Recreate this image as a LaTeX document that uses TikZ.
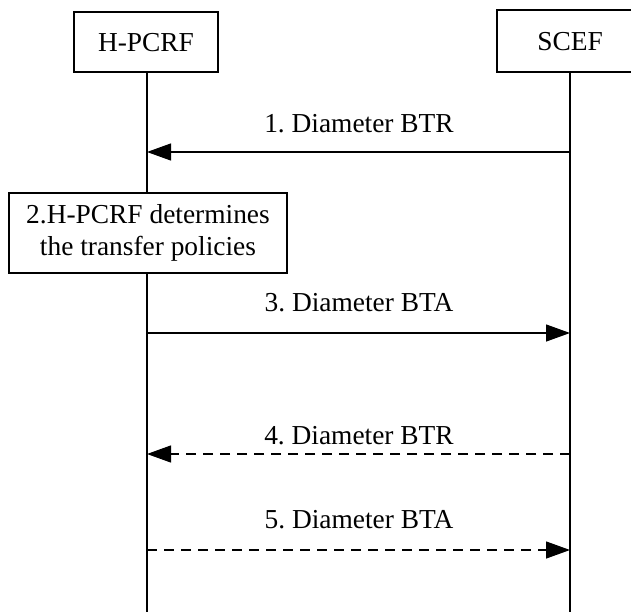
\documentclass[tikz,border=0pt]{standalone}
\usepackage{fontspec}
\setmainfont{Liberation Serif}
\usetikzlibrary{arrows.meta}
\frenchspacing
\tikzset{
  entity/.style={draw,line width=1.3bp,inner sep=0bp,font=\fontsize{27.5}{27.5}\selectfont},
  msg/.style={line width=1.3bp,-{Triangle[length=24bp,width=17bp]}},
  msglabel/.style={font=\fontsize{27.5}{27.5}\selectfont,inner sep=0bp},
  lifeline/.style={line width=1.3bp}
}

\begin{document}
\begin{tikzpicture}[x=1bp,y=-1bp]
  \path[use as bounding box] (0,0) rectangle (631,612);

  % entities and their lifelines
  \node[entity,text height=19bp,text depth=0bp,minimum width=144bp,minimum height=60bp]
    (hpcrf) at (146,42) {H-PCRF};
  \node[entity,text height=19bp,text depth=0bp,minimum width=146bp,minimum height=62bp]
    (scef) at (570,41) {SCEF};
  \coordinate (hpcrfend) at (147,612);
  \coordinate (scefend) at (570,612);
  \node[entity,align=center,minimum width=278bp,minimum height=80bp,
    font=\fontsize{27.5}{32}\selectfont] (policy) at (148,233)
    {2.H-PCRF determines\\the transfer policies};
  \draw[lifeline] (hpcrf.south -| hpcrfend) -- (policy.north -| hpcrfend);
  \draw[lifeline] (policy.south -| hpcrfend) -- (hpcrfend);
  \draw[lifeline] (scef.south -| scefend) -- (scefend);

  % messages
  \coordinate (m1) at (0,152);
  \coordinate (m3) at (0,333);
  \coordinate (m4) at (0,454);
  \coordinate (m5) at (0,550);
  \draw[msg] (m1 -| scefend) -- (m1 -| hpcrfend);
  \draw[msg] (m3 -| hpcrfend) -- (m3 -| scefend);
  \draw[msg,dash pattern=on 10bp off 7bp] (m4 -| scefend) -- (m4 -| hpcrfend);
  \draw[msg,dash pattern=on 10bp off 7bp] (m5 -| hpcrfend) -- (m5 -| scefend);
  \node[msglabel] (l1) at (359,124) {1. Diameter BTR};
  \node[msglabel] (l3) at (359,303) {3. Diameter BTA};
  \node[msglabel] (l4) at (359,436) {4. Diameter BTR};
  \node[msglabel] (l5) at (359,520) {5. Diameter BTA};
\end{tikzpicture}
\end{document}
